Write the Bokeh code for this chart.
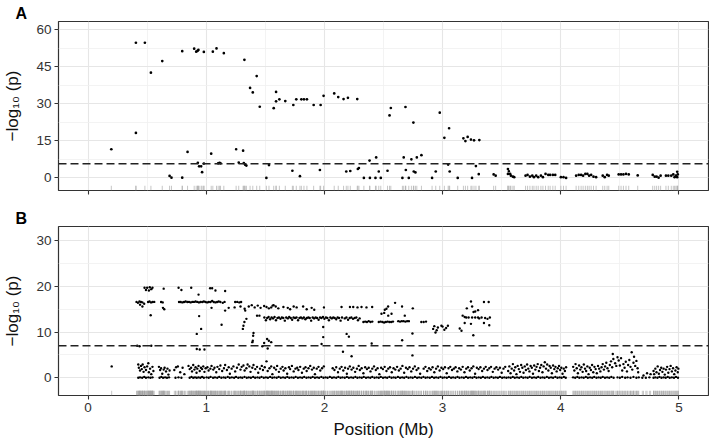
from bokeh.plotting import figure
from bokeh.layouts import column
from bokeh.models import FixedTicker, Span, Range1d
from bokeh.embed import file_html
from bokeh.resources import INLINE

# ---------------- axis / threshold values ----------------
X_TICKS = [0, 1, 2, 3, 4, 5]
X_MINOR = [0.5, 1.5, 2.5, 3.5, 4.5]
X_RANGE = (-0.25, 5.25)
A_Y_TICKS = [0, 15, 30, 45, 60]
A_Y_MINOR = [7.5, 22.5, 37.5, 52.5]
A_Y_RANGE = (-5.1, 63.3)
B_Y_TICKS = [0, 10, 20, 30]
B_Y_MINOR = [5, 15, 25]
B_Y_RANGE = (-3.87, 33.1)
A_THRESHOLD = 5.7
B_THRESHOLD = 7.0
X_TITLE = "Position (Mb)"
Y_TITLE = "\u2212log\u2081\u2080 (p)"

# ---------------- panel A: (position Mb, -log10 p) ----------------
a_pts = [
    (0.197, 11.6), (0.405, 54.7), (0.481, 54.7), (0.405, 18.2), (0.532, 42.6), (0.628, 47.3),
    (0.690, 0.8), (0.706, 0.1), (0.797, 51.3), (0.797, 0.1), (0.842, 10.5), (0.898, 52.3),
    (0.915, 51.1), (0.926, 51.4), (0.934, 51.8), (0.980, 51.0), (0.929, 6.1), (0.940, 4.7),
    (0.957, 4.7), (0.965, 2.3), (0.980, 5.8), (1.042, 9.8), (1.056, 51.1), (1.087, 52.4),
    (1.149, 50.5), (1.101, 5.9), (1.113, 6.1), (1.121, 5.9), (1.253, 11.6), (1.275, 6.2),
    (1.312, 11.0), (1.318, 6.0), (1.330, 5.3), (1.340, 5.0), (1.323, 47.8), (1.427, 41.2),
    (1.371, 36.4), (1.394, 34.6), (1.453, 28.8), (1.509, 0.0), (1.531, 5.2), (1.571, 28.2),
    (1.591, 31.0), (1.591, 34.8), (1.619, 31.8), (1.669, 31.1), (1.737, 29.5), (1.762, 31.8),
    (1.805, 31.8), (1.827, 31.8), (1.852, 31.8), (1.909, 29.5), (1.968, 29.5), (1.993, 33.2),
    (2.083, 34.2), (2.117, 32.7), (2.162, 31.9), (2.199, 32.4), (2.278, 31.9), (1.729, 2.9),
    (1.793, 0.7), (1.962, 3.2), (2.185, 2.6), (2.219, 2.8), (2.283, 3.6), (2.292, 4.0),
    (2.334, 0.0), (2.385, 0.0), (2.382, 7.0), (2.432, 0.0), (2.438, 8.3), (2.460, 2.6),
    (2.477, 0.0), (2.534, 2.9), (2.551, 25.3), (2.562, 28.3), (2.660, 0.0), (2.671, 8.3),
    (2.686, 28.7), (2.689, 3.2), (2.714, 0.0), (2.736, 7.5), (2.753, 22.4), (2.756, 2.6),
    (2.770, 2.2), (2.782, 8.3), (2.821, 9.2), (2.911, 0.0), (2.942, 2.6), (2.976, 26.4),
    (3.015, 16.2), (3.047, 5.4), (3.055, 20.1), (3.060, 2.6), (3.128, 0.0), (3.176, 16.0),
    (3.193, 14.9), (3.212, 16.6), (3.240, 15.5), (3.266, 15.2), (3.311, 15.3), (3.249, 0.0),
    (3.282, 4.8), (3.306, 1.5),
    (3.432, 1.4), (3.449, 0.9), (3.553, 3.6), (3.561, 2.7), (3.572, 1.6), (3.578, 0.9),
    (3.595, 0.5), (3.606, 0.3), (3.553, 1.6), (3.702, 0.9), (3.719, 1.2), (3.739, 0.5),
    (3.759, 0.9), (3.773, 0.3), (3.792, 0.9), (3.809, 0.3), (3.832, 0.9), (3.849, 0.3),
    (3.871, 1.6), (3.894, 1.2), (3.910, 1.2), (3.933, 1.2), (3.953, 1.2), (4.001, 0.3),
    (4.023, 0.3), (4.045, 0.0), (4.130, 0.9), (4.152, 1.2), (4.172, 1.2), (4.189, 0.9),
    (4.208, 1.6), (4.225, 1.6), (4.240, 0.9), (4.257, 1.2), (4.277, 0.5), (4.299, 0.3),
    (4.355, 0.9), (4.372, 0.3), (4.392, 1.2), (4.406, 0.9), (4.490, 1.4), (4.510, 1.4),
    (4.530, 1.4), (4.552, 1.6), (4.575, 1.4), (4.651, 1.0), (4.778, 1.2), (4.795, 0.5),
    (4.811, 0.5), (4.828, 0.1), (4.845, 0.9), (4.890, 0.9), (4.910, 0.9), (4.935, 0.9),
    (4.952, 1.4), (4.963, 0.3), (4.974, 0.9), (4.985, 2.5), (4.990, 1.4), (4.985, 0.3),
]

# ---------------- panel B: upper points (above ~4) ----------------
b_top = [
    (0.478, 19.7), (0.490, 19.2), (0.500, 19.7), (0.515, 19.1), (0.522, 19.8), (0.535, 19.4),
    (0.545, 19.7), (0.640, 19.5), (0.766, 19.7), (0.790, 19.2), (0.873, 19.7), (1.033, 19.6),
    (1.050, 19.6), (1.078, 19.1), (1.160, 19.0), (0.935, 18.2),
    (0.410, 16.6), (0.422, 16.4), (0.435, 16.7), (0.448, 16.6), (0.460, 16.5), (0.508, 16.6),
    (0.520, 16.7), (0.533, 16.5), (0.547, 16.6), (0.560, 16.6), (0.618, 16.6), (0.632, 16.5),
    (0.770, 16.6), (0.784, 16.6), (0.798, 16.5), (0.812, 16.6), (0.826, 16.7), (0.840, 16.6),
    (0.854, 16.6), (0.868, 16.5), (0.882, 16.6), (0.896, 16.6), (0.910, 16.7), (0.924, 16.6),
    (0.938, 16.5), (0.952, 16.6), (0.966, 16.6), (0.980, 16.7), (0.994, 16.6), (1.008, 16.5),
    (1.022, 16.6), (1.036, 16.6), (1.050, 16.8), (1.064, 16.6), (1.078, 16.5), (1.092, 16.6),
    (1.106, 16.7), (1.120, 16.6), (1.140, 16.4), (1.155, 16.6), (1.245, 16.6), (1.262, 16.6),
    (1.280, 16.5), (1.295, 16.6),
    (0.440, 16.0), (0.460, 15.6), (0.475, 16.2), (0.530, 13.7), (0.634, 15.3), (0.645, 15.0),
    (1.045, 15.3), (1.130, 11.6), (1.160, 14.7), (1.190, 15.3), (1.240, 15.4), (1.290, 15.6),
    (0.940, 13.5), (0.957, 10.7), (0.920, 9.6),
    (0.416, 7.0), (0.436, 6.9), (0.535, 7.0), (0.920, 6.3), (0.945, 6.2), (0.985, 6.2),
    (1.310, 10.7), (1.315, 11.4), (1.323, 12.2), (1.340, 12.9), (1.330, 14.7), (1.325, 15.1),
    (1.360, 15.6), (1.385, 15.9), (1.410, 15.4), (1.436, 15.8), (1.460, 15.3), (1.490, 15.7),
    (1.510, 15.5), (1.530, 15.2), (1.550, 15.4), (1.570, 15.9), (1.394, 8.1), (1.400, 9.8),
    (1.397, 9.2), (1.390, 7.8), (1.430, 13.6), (1.450, 13.6), (1.515, 8.5), (1.530, 8.1),
    (1.550, 7.8), (1.490, 7.6), (1.520, 6.4), (1.475, 6.9),
    (1.562, 15.8), (1.588, 15.6), (1.610, 15.2), (1.653, 15.5), (1.690, 15.3), (1.710, 15.0),
    (1.765, 15.4), (1.820, 15.6), (1.892, 15.3), (1.914, 14.9), (1.996, 15.4), (2.145, 15.5),
    (2.216, 15.5), (2.244, 15.5), (2.280, 15.4), (2.314, 15.5), (2.356, 15.4), (2.404, 15.5),
    (1.740, 15.6), (1.850, 15.0),
    (1.492, 13.2), (1.505, 12.6), (1.516, 13.1), (1.528, 13.3), (1.541, 12.8), (1.553, 13.2),
    (1.566, 13.0), (1.578, 13.3), (1.590, 12.6), (1.603, 13.1), (1.615, 13.2), (1.628, 12.9),
    (1.640, 13.2), (1.652, 13.1), (1.665, 12.5), (1.677, 13.2), (1.690, 13.0), (1.702, 13.3),
    (1.715, 13.1), (1.727, 12.7), (1.739, 13.2), (1.752, 13.1), (1.764, 13.2), (1.777, 12.6),
    (1.789, 13.1), (1.801, 13.2), (1.814, 13.0), (1.826, 13.2), (1.839, 12.8), (1.851, 13.1),
    (1.864, 13.2), (1.876, 13.1), (1.888, 12.5), (1.901, 13.2), (1.913, 13.0), (1.926, 13.2),
    (1.938, 13.1), (1.951, 12.7), (1.963, 13.2), (1.975, 13.1), (1.988, 13.3), (2.000, 12.9),
    (2.013, 13.2), (2.025, 13.1), (2.038, 12.6), (2.050, 13.2), (2.062, 13.0), (2.075, 13.2),
    (2.087, 13.1), (2.100, 12.8), (2.112, 13.2), (2.124, 13.1), (2.137, 12.5), (2.149, 13.2),
    (2.172, 13.0), (2.186, 13.2), (2.200, 12.7), (2.214, 13.1), (2.228, 13.2), (2.242, 12.9),
    (2.256, 13.1), (2.270, 13.2), (2.284, 12.6), (2.298, 13.0), (2.330, 12.2), (2.345, 12.3),
    (2.360, 12.2), (2.375, 12.4), (2.390, 12.2), (2.405, 12.3),
    (2.460, 12.2), (2.475, 12.3), (2.490, 12.2), (2.505, 12.1), (2.520, 12.2), (2.535, 12.3),
    (2.550, 12.2), (2.565, 12.2), (2.580, 12.3),
    (2.625, 12.4), (2.640, 12.3), (2.655, 12.4), (2.670, 12.4), (2.685, 12.3), (2.700, 12.4),
    (2.715, 12.4), (2.820, 12.2), (2.840, 12.2), (2.860, 12.3),
    (2.920, 10.7), (2.930, 11.3), (2.940, 9.9), (2.950, 10.4), (2.960, 11.0), (2.990, 11.4),
    (3.000, 11.2), (3.015, 10.5), (3.030, 10.9), (3.045, 11.4),
    (2.483, 14.0), (2.506, 14.2), (2.525, 15.1), (2.539, 15.6), (2.511, 14.9), (2.568, 14.0),
    (2.540, 13.6), (2.598, 16.4), (2.657, 15.6), (2.680, 13.6), (2.748, 15.2), (2.745, 9.7),
    (2.658, 8.2), (2.745, 4.9),
    (1.976, 7.4), (1.990, 8.9), (1.990, 11.1), (2.188, 9.6), (2.207, 9.0), (2.157, 5.7),
    (2.230, 4.7), (2.400, 7.5),
    (3.145, 10.8), (3.160, 10.3), (3.170, 13.6), (3.187, 13.3), (3.187, 12.0), (3.205, 15.2),
    (3.200, 13.2), (3.220, 13.2), (3.240, 16.7), (3.240, 11.8), (3.250, 15.6), (3.250, 13.2),
    (3.262, 14.4), (3.260, 9.3), (3.276, 13.2), (3.276, 14.5), (3.300, 13.2), (3.300, 14.8),
    (3.310, 13.0), (3.330, 13.2), (3.350, 16.6), (3.350, 12.0), (3.360, 13.1), (3.380, 12.9),
    (3.390, 16.6), (3.395, 11.5), (3.400, 13.2),
]

# ---------------- panel B: band points (about 0.5 to 5.6) ----------------
b_band = [
    (0.200, 2.5),
    (0.425, 2.9), (0.430, 2.2), (0.440, 1.6), (0.448, 2.6), (0.455, 1.9), (0.462, 2.9),
    (0.470, 1.3), (0.478, 2.3), (0.490, 1.7), (0.500, 2.5), (0.510, 3.2), (0.515, 1.2),
    (0.525, 2.0), (0.535, 0.8), (0.545, 2.4), (0.553, 1.5),
    (0.600, 2.4), (0.610, 1.7), (0.618, 2.1), (0.628, 0.9), (0.640, 1.8), (0.648, 2.2),
    (0.660, 1.4), (0.672, 2.0), (0.680, 0.7), (0.690, 1.6),
    (0.730, 1.7), (0.745, 2.3), (0.760, 2.5), (0.780, 1.2), (0.800, 2.2), (0.815, 0.8),
    (0.850, 2.6), (0.860, 1.9), (0.872, 2.2), (0.880, 1.4), (0.890, 2.8), (0.900, 1.8),
    (0.910, 2.3), (0.918, 1.1), (0.925, 2.0), (0.935, 2.6), (0.945, 1.5), (0.955, 2.2),
    (0.965, 1.9), (0.975, 2.5), (0.985, 1.3), (0.995, 2.1),
    (1.010, 2.3), (1.020, 1.6), (1.035, 2.0), (1.045, 2.6), (1.060, 1.8), (1.070, 2.2),
    (1.085, 1.2), (1.095, 2.4), (1.110, 1.9), (1.120, 2.7), (1.135, 1.5), (1.150, 2.1),
    (1.160, 2.8), (1.175, 1.7), (1.190, 2.3), (1.200, 0.9), (1.215, 2.0), (1.230, 2.5),
    (1.245, 1.4), (1.260, 2.2), (1.275, 2.9), (1.290, 1.8), (1.300, 2.4), (1.315, 2.7),
    (1.325, 1.6), (1.340, 2.1), (1.350, 2.9), (1.365, 2.5), (1.375, 1.3), (1.390, 2.2),
    (1.400, 2.8), (1.415, 1.9), (1.430, 2.4), (1.440, 1.1), (1.455, 2.0), (1.470, 2.6),
    (1.480, 1.7), (1.495, 2.3), (1.510, 3.6), (1.520, 1.5), (1.535, 2.1), (1.550, 2.5),
    (1.560, 0.8), (1.575, 2.2), (1.590, 1.8), (1.600, 2.6), (1.615, 1.3), (1.630, 2.0),
    (1.645, 2.4), (1.655, 1.6), (1.670, 2.1), (1.685, 0.9), (1.700, 2.3), (1.710, 1.9),
    (1.725, 2.6), (1.740, 1.4), (1.755, 2.0), (1.770, 2.2), (1.780, 1.7), (1.795, 2.4),
    (1.810, 1.1), (1.825, 2.0), (1.840, 2.3), (1.850, 1.5), (1.865, 2.1), (1.880, 2.6),
    (1.895, 1.8), (1.910, 2.2), (1.920, 0.8), (1.935, 2.0), (1.950, 2.4), (1.965, 1.6),
    (1.980, 2.1), (1.995, 2.5), (2.070, 2.1), (2.085, 1.7), (2.100, 2.3), (2.115, 1.2),
    (2.130, 2.0), (2.145, 2.4), (2.160, 1.6), (2.175, 2.2), (2.190, 0.9), (2.200, 2.0),
    (2.215, 2.5), (2.230, 1.8), (2.245, 2.2), (2.260, 1.3), (2.275, 2.0), (2.290, 2.6),
    (2.300, 1.7), (2.315, 2.1), (2.330, 1.0), (2.345, 2.3), (2.360, 1.9), (2.375, 2.2),
    (2.390, 1.4), (2.405, 2.0), (2.420, 2.5), (2.435, 1.7), (2.450, 2.1), (2.465, 0.8),
    (2.480, 2.2), (2.495, 1.9), (2.510, 2.4), (2.525, 1.5), (2.540, 2.0), (2.555, 2.3),
    (2.570, 1.2), (2.585, 2.1), (2.600, 1.8), (2.615, 2.4), (2.630, 1.6), (2.645, 2.0),
    (2.660, 2.6), (2.675, 1.1), (2.690, 2.2), (2.705, 1.9), (2.720, 2.3), (2.735, 1.4),
    (2.750, 2.0), (2.765, 2.5), (2.780, 1.7), (2.795, 2.1), (2.810, 0.9), (2.840, 2.0),
    (2.855, 2.4), (2.870, 1.5), (2.885, 2.1), (2.900, 1.8), (2.915, 2.3), (2.930, 1.2),
    (2.945, 2.0), (2.960, 2.5), (2.975, 1.6), (2.990, 2.2), (3.005, 1.9), (3.020, 2.3),
    (3.035, 1.0), (3.050, 2.1), (3.065, 2.4), (3.080, 1.7), (3.095, 2.0), (3.110, 2.3),
    (3.125, 1.4), (3.140, 2.1), (3.155, 1.8), (3.170, 2.4), (3.185, 1.2), (3.200, 2.0),
    (3.215, 2.3), (3.230, 1.6), (3.245, 2.1), (3.260, 2.5), (3.275, 0.9), (3.290, 2.2),
    (3.305, 1.9), (3.320, 2.3), (3.335, 1.5), (3.350, 2.0), (3.365, 2.4), (3.380, 1.7),
    (3.395, 2.1), (3.410, 2.4), (3.425, 1.3), (3.440, 2.0), (3.455, 2.3), (3.470, 1.8),
    (3.485, 2.2), (3.500, 1.1), (3.515, 2.0), (3.530, 2.4),
    (3.555, 1.5), (3.565, 2.5), (3.575, 1.0), (3.585, 2.0), (3.595, 3.0), (3.605, 1.6),
    (3.615, 2.3), (3.625, 0.8), (3.635, 2.6), (3.645, 1.9), (3.655, 1.3), (3.665, 2.8),
    (3.675, 2.2), (3.685, 1.1), (3.695, 2.5), (3.705, 1.7), (3.715, 2.9), (3.725, 2.0),
    (3.735, 1.4), (3.745, 2.6), (3.755, 2.2), (3.765, 0.9), (3.775, 2.7), (3.785, 1.8),
    (3.795, 2.4), (3.805, 3.0), (3.815, 1.5), (3.825, 2.2), (3.835, 2.8), (3.845, 1.2),
    (3.855, 2.5), (3.865, 3.4), (3.875, 2.0), (3.885, 2.9), (3.895, 1.6), (3.905, 2.6),
    (3.915, 2.2), (3.925, 1.0), (3.935, 2.7), (3.945, 1.9), (3.955, 2.4), (3.965, 1.4),
    (3.975, 2.1), (3.985, 2.6), (3.995, 1.7), (4.005, 2.2), (4.015, 0.9), (4.025, 2.0),
    (4.035, 1.5), (4.045, 2.3),
    (4.105, 2.4), (4.115, 1.6), (4.125, 3.0), (4.135, 2.1), (4.145, 1.0), (4.155, 2.7),
    (4.165, 1.8), (4.175, 2.3), (4.185, 1.3), (4.195, 2.9), (4.205, 2.0), (4.215, 1.5),
    (4.225, 2.5), (4.235, 0.8), (4.245, 2.2), (4.255, 1.7), (4.265, 2.8), (4.275, 1.2),
    (4.285, 2.4), (4.295, 1.9), (4.305, 1.0), (4.315, 2.6), (4.325, 2.0), (4.335, 1.4),
    (4.345, 2.3), (4.355, 3.0), (4.365, 1.8), (4.375, 2.5), (4.385, 3.3), (4.395, 2.1),
    (4.405, 1.5), (4.415, 2.8), (4.425, 3.6), (4.435, 2.3), (4.440, 5.2), (4.445, 4.1),
    (4.460, 3.2), (4.470, 2.6), (4.480, 4.5), (4.490, 3.8), (4.500, 2.7), (4.510, 4.3),
    (4.520, 1.6), (4.530, 3.0), (4.540, 2.2), (4.550, 3.5), (4.560, 1.4), (4.570, 2.8),
    (4.580, 3.9), (4.590, 2.4), (4.600, 5.6), (4.605, 1.8), (4.615, 3.3), (4.620, 4.6),
    (4.630, 2.6), (4.640, 3.7), (4.650, 2.1), (4.655, 1.2),
    (4.700, 0.5), (4.730, 1.0), (4.760, 0.8),
    (4.785, 1.5), (4.790, 0.8), (4.800, 2.0), (4.810, 1.2), (4.820, 2.5), (4.830, 0.9),
    (4.840, 1.7), (4.850, 2.2), (4.860, 1.3), (4.870, 2.0), (4.880, 0.7), (4.890, 1.8),
    (4.900, 2.4), (4.910, 1.1), (4.920, 1.9), (4.930, 2.6), (4.940, 1.4), (4.950, 2.1),
    (4.960, 0.8), (4.970, 1.6), (4.980, 2.3), (4.990, 1.2), (4.995, 2.0),
]

# ---------------- panel B: baseline points (about 0) ----------------
b_base = [
    (0.425, 0.0), (0.440, 0.1), (0.458, 0.0), (0.475, 0.2), (0.490, 0.0), (0.510, 0.1),
    (0.528, 0.0), (0.545, 0.1), (0.605, 0.0), (0.620, 0.2), (0.635, 0.0), (0.652, 0.1),
    (0.668, 0.0), (0.685, 0.1), (0.740, 0.0), (0.765, 0.1), (0.790, 0.0), (0.860, 0.0),
    (0.875, 0.2), (0.890, 0.0), (0.905, 0.1), (0.920, 0.0), (0.935, 0.1), (0.950, 0.0),
    (0.965, 0.2), (0.980, 0.0),
    (1.003, 0.1), (1.021, 0.0), (1.037, 0.2), (1.058, 0.0), (1.074, 0.1), (1.093, 0.0),
    (1.110, 0.2), (1.128, 0.0), (1.147, 0.1), (1.163, 0.0), (1.182, 0.2), (1.199, 0.0),
    (1.217, 0.1), (1.236, 0.0), (1.252, 0.2), (1.271, 0.0), (1.289, 0.1), (1.305, 0.0),
    (1.324, 0.2), (1.343, 0.0), (1.360, 0.1), (1.378, 0.0), (1.397, 0.2), (1.414, 0.0),
    (1.433, 0.1), (1.451, 0.0), (1.468, 0.2), (1.487, 0.0), (1.505, 0.1), (1.522, 0.0),
    (1.541, 0.2), (1.559, 0.0), (1.577, 0.1), (1.596, 0.0), (1.613, 0.2), (1.631, 0.0),
    (1.650, 0.1), (1.668, 0.0), (1.686, 0.2), (1.703, 0.0), (1.722, 0.1), (1.740, 0.0),
    (1.757, 0.2), (1.776, 0.0), (1.794, 0.1), (1.812, 0.0), (1.829, 0.2), (1.848, 0.0),
    (1.866, 0.1), (1.884, 0.0), (1.901, 0.2), (1.920, 0.0), (1.938, 0.1), (1.955, 0.0),
    (1.974, 0.2), (1.992, 0.0), (2.010, 0.1), (2.027, 0.0), (2.046, 0.2), (2.064, 0.0),
    (2.081, 0.1), (2.100, 0.0), (2.118, 0.2), (2.136, 0.0), (2.153, 0.1), (2.172, 0.0),
    (2.190, 0.2), (2.207, 0.0), (2.226, 0.1), (2.244, 0.0), (2.262, 0.2), (2.279, 0.0),
    (2.298, 0.1), (2.316, 0.0), (2.333, 0.2), (2.352, 0.0), (2.370, 0.1), (2.388, 0.0),
    (2.405, 0.2), (2.424, 0.0), (2.442, 0.1), (2.460, 0.0), (2.477, 0.2), (2.496, 0.0),
    (2.514, 0.1), (2.531, 0.0), (2.550, 0.2), (2.568, 0.0), (2.586, 0.1), (2.603, 0.0),
    (2.622, 0.2), (2.640, 0.0), (2.658, 0.1), (2.675, 0.0), (2.694, 0.2), (2.712, 0.0),
    (2.730, 0.1), (2.747, 0.0), (2.766, 0.2), (2.784, 0.0), (2.801, 0.1), (2.820, 0.0),
    (2.838, 0.2), (2.856, 0.0), (2.873, 0.1), (2.892, 0.0), (2.910, 0.2), (2.928, 0.0),
    (2.945, 0.1), (2.964, 0.0), (2.982, 0.2), (3.000, 0.0), (3.017, 0.1), (3.036, 0.0),
    (3.054, 0.2), (3.072, 0.0), (3.089, 0.1), (3.108, 0.0), (3.126, 0.2), (3.143, 0.0),
    (3.162, 0.1), (3.180, 0.0), (3.198, 0.2), (3.215, 0.0), (3.234, 0.1), (3.252, 0.0),
    (3.270, 0.2), (3.287, 0.0), (3.306, 0.1), (3.324, 0.0), (3.341, 0.2), (3.360, 0.0),
    (3.378, 0.1), (3.396, 0.0), (3.413, 0.2), (3.432, 0.0), (3.450, 0.1), (3.468, 0.0),
    (3.485, 0.2), (3.504, 0.0), (3.522, 0.1), (3.540, 0.0),
    (3.558, 0.1), (3.576, 0.0), (3.594, 0.2), (3.611, 0.0), (3.630, 0.1), (3.648, 0.0),
    (3.666, 0.2), (3.683, 0.0), (3.702, 0.1), (3.720, 0.0), (3.737, 0.2), (3.756, 0.0),
    (3.774, 0.1), (3.792, 0.0), (3.809, 0.2), (3.828, 0.0), (3.846, 0.1), (3.863, 0.0),
    (3.882, 0.2), (3.900, 0.0), (3.918, 0.1), (3.935, 0.0), (3.954, 0.2), (3.972, 0.0),
    (3.990, 0.1), (4.007, 0.0), (4.026, 0.2), (4.042, 0.0),
    (4.104, 0.1), (4.122, 0.0), (4.140, 0.2), (4.157, 0.0), (4.176, 0.1), (4.194, 0.0),
    (4.212, 0.2), (4.229, 0.0), (4.248, 0.1), (4.266, 0.0), (4.283, 0.2), (4.302, 0.0),
    (4.320, 0.1), (4.338, 0.0), (4.355, 0.2), (4.374, 0.0), (4.392, 0.1), (4.410, 0.0),
    (4.428, 0.2), (4.447, 0.0),
    (4.480, 0.1), (4.500, 0.0), (4.520, 0.2), (4.545, 0.0), (4.565, 0.1), (4.590, 0.0),
    (4.615, 0.2), (4.640, 0.0), (4.660, 0.1), (4.690, 0.0), (4.720, 0.0), (4.750, 0.1),
    (4.785, 0.0), (4.800, 0.1), (4.818, 0.0), (4.835, 0.2), (4.852, 0.0), (4.870, 0.1),
    (4.888, 0.0), (4.905, 0.2), (4.922, 0.0), (4.940, 0.1), (4.958, 0.0), (4.975, 0.2),
    (4.992, 0.0),
]

FONT = "Liberation Sans"
W = 709


def make_panel(height, top, bottom, y_range, yticks, yminor, show_xlabels, tag, threshold,
               pts_groups, pt_size):
    p = figure(width=W, height=height, x_range=Range1d(*X_RANGE), y_range=Range1d(*y_range),
               output_backend="svg", toolbar_location=None,
               min_border_left=56, min_border_right=1, min_border_top=top,
               min_border_bottom=bottom)
    p.background_fill_color = "white"
    p.border_fill_color = "white"
    p.outline_line_color = "#333333"
    p.outline_line_width = 1.2
    p.outline_line_alpha = 1.0

    # panel tag as a left-aligned title pulled out to the left edge
    p.title.text = tag
    p.title.align = "left"
    p.title.offset = -43
    p.title.standoff = 0
    p.title.text_font = FONT
    p.title.text_font_size = "16px"
    p.title.text_font_style = "bold"
    p.title.text_color = "black"
    p.title.vertical_align = "bottom"
    p.title.text_line_height = 1.0

    p.xaxis.ticker = FixedTicker(ticks=X_TICKS, minor_ticks=X_MINOR)
    p.yaxis.ticker = FixedTicker(ticks=yticks, minor_ticks=yminor)
    for ax in (p.xaxis[0], p.yaxis[0]):
        ax.axis_line_color = None
        ax.major_tick_line_color = "#333333"
        ax.major_tick_line_width = 1.1
        ax.major_tick_out = 4
        ax.major_tick_in = 0
        ax.minor_tick_line_color = None
        ax.major_label_text_font = FONT
        ax.major_label_text_font_size = "13.5px"
        ax.major_label_text_color = "#333333"
        ax.major_label_standoff = 3
    yax = p.yaxis[0]
    yax.axis_label = Y_TITLE
    yax.axis_label_text_font = FONT
    yax.axis_label_text_font_size = "17px"
    yax.axis_label_text_font_style = "normal"
    yax.axis_label_text_color = "#111111"
    yax.axis_label_standoff = 11
    if not show_xlabels:
        p.xaxis[0].major_label_overrides = {t: "" for t in X_TICKS}
    else:
        xax = p.xaxis[0]
        xax.axis_label = X_TITLE
        xax.axis_label_text_font = FONT
        xax.axis_label_text_font_size = "17px"
        xax.axis_label_text_font_style = "normal"
        xax.axis_label_text_color = "#111111"
        xax.axis_label_standoff = 5

    for g in (p.xgrid[0], p.ygrid[0]):
        g.grid_line_color = "#e6e6e6"
        g.grid_line_width = 1.1
        g.minor_grid_line_color = "#f0f0f0"
        g.minor_grid_line_width = 0.8

    ymin, ymax = y_range
    # rug of all positions
    rug_x = sorted(x for grp in pts_groups for (x, _) in grp)
    rug_len = (ymax - ymin) * 0.028
    p.segment(x0=rug_x, y0=[ymin] * len(rug_x), x1=rug_x, y1=[ymin + rug_len] * len(rug_x),
              line_color="#a0a0a0", line_width=0.6)

    p.add_layout(Span(location=threshold, dimension="width", line_color="#222222",
                      line_width=1.4, line_dash="8 4"))

    for grp in pts_groups:
        xs = [x for x, _ in grp]
        ys = [y for _, y in grp]
        p.scatter(xs, ys, size=pt_size, color="black", line_width=0)
    return p


pA = make_panel(207, 21, 17, A_Y_RANGE, A_Y_TICKS, A_Y_MINOR, False, "A", A_THRESHOLD,
                [a_pts], 2.7)
pB = make_panel(238, 19, 50, B_Y_RANGE, B_Y_TICKS, B_Y_MINOR, True, "B", B_THRESHOLD,
                [b_base, b_band, b_top], 2.4)

layout = column(pA, pB, spacing=0)
open("out.html", "w").write(file_html(layout, INLINE))
